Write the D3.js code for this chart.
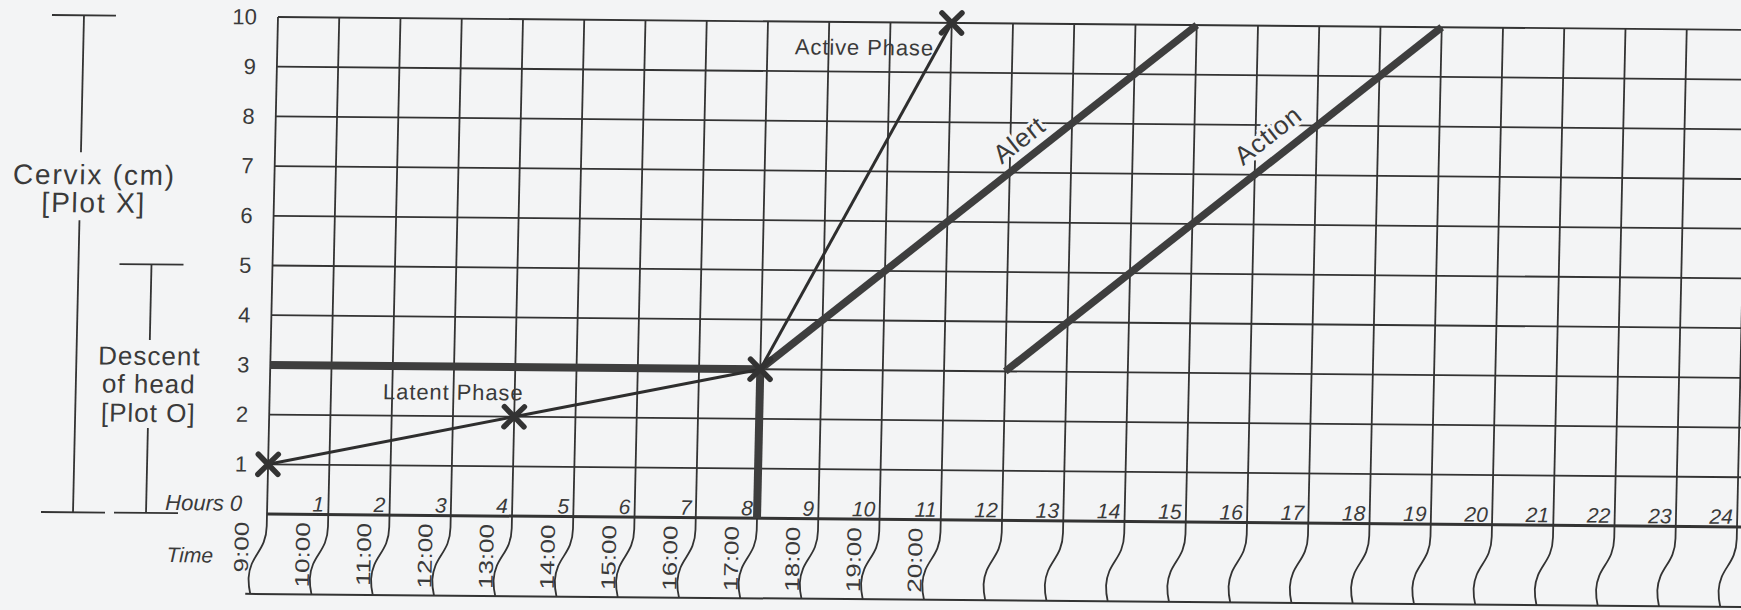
<!DOCTYPE html>
<html>
<head>
<meta charset="utf-8">
<script src="https://cdn.jsdelivr.net/npm/d3@7"></script>
<style>
  html, body { margin: 0; padding: 0; background: #f3f4f5; }
  svg { display: block; }
  text { font-family: "Liberation Sans", Arial, sans-serif; fill: #3a3a3a; }
</style>
</head>
<body>
<svg id="partograph"></svg>
<script>
var cervixTicks = [1, 2, 3, 4, 5, 6, 7, 8, 9, 10]
var gridValues = [0, 1, 2, 3, 4, 5, 6, 7, 8, 9, 10]
var hourTicks = [1, 2, 3, 4, 5, 6, 7, 8, 9, 10, 11, 12, 13, 14, 15, 16, 17, 18, 19, 20, 21, 22, 23, 24]
var gridHours = [0, 1, 2, 3, 4, 5, 6, 7, 8, 9, 10, 11, 12, 13, 14, 15, 16, 17, 18, 19, 20, 21, 22, 23, 24]
var timeLabels = ["9:00", "10:00", "11:00", "12:00", "13:00", "14:00", "15:00", "16:00", "17:00", "18:00", "19:00", "20:00"]

var latentPhase = [{hour: 0, cm: 1}, {hour: 4, cm: 2}, {hour: 8, cm: 3}]
var activePhase = [{hour: 8, cm: 3}, {hour: 11, cm: 10}]
var alertLine = [{hour: 8, cm: 3}, {hour: 15, cm: 10}]
var actionLine = [{hour: 12, cm: 3}, {hour: 19, cm: 10}]
var startLevel = [{hour: 0, cm: 3}, {hour: 8, cm: 3}]
var startHour = [{hour: 8, cm: 3}, {hour: 8, cm: 0}]
var plotted = [{hour: 0, cm: 1}, {hour: 4, cm: 2}, {hour: 8, cm: 3}, {hour: 11, cm: 10}]

var dims = {
    width: 1741,
    height: 610,
    // origin of the grid (hour 0, 0 cm) and the slight skew of the photographed page
    origin: {x: 267, y: 514},
    plotW: 1470,
    plotH: 497,
    skewX: -0.0221,
    skewY: 0.0088,
    timeRow: 80
}
var ink = "#333"
var heavy = "#3e3e3e"

var svg = d3.select("#partograph")
    .attr("width", dims.width)
    .attr("height", dims.height)

var x = d3.scaleLinear().domain([0, 24]).range([0, dims.plotW])
var y = d3.scaleLinear().domain([0, 10]).range([0, -dims.plotH])

var g = svg.append("g")
    .attr("transform", `matrix(1, ${dims.skewY}, ${dims.skewX}, 1, ${dims.origin.x}, ${dims.origin.y})`)

// grid
g.append("g").selectAll("line")
    .data(gridValues)
    .enter()
    .append("line")
    .attr("x1", x(0))
    .attr("x2", x(24) + 20)
    .attr("y1", d => y(d))
    .attr("y2", d => y(d))
    .attr("stroke", ink)
    .attr("stroke-width", d => d === 0 ? 3 : 1.8)

g.append("g").selectAll("line")
    .data(gridHours)
    .enter()
    .append("line")
    .attr("x1", d => x(d))
    .attr("x2", d => x(d))
    .attr("y1", y(0))
    .attr("y2", y(10))
    .attr("stroke", ink)
    .attr("stroke-width", 1.8)

// wavy dividers of the time row
g.append("g").selectAll("path")
    .data(gridHours)
    .enter()
    .append("path")
    .attr("d", d => {
        var h = x(d), b = dims.timeRow
        return `M${h},0 L${h},12 C${h},38 ${h - 16},40 ${h - 17},64 Q${h - 17},72 ${h - 15},${b}`
    })
    .attr("fill", "none")
    .attr("stroke", ink)
    .attr("stroke-width", 1.8)

g.append("line")
    .attr("x1", x(0) - 20)
    .attr("x2", x(24) + 20)
    .attr("y1", dims.timeRow)
    .attr("y2", dims.timeRow)
    .attr("stroke", ink)
    .attr("stroke-width", 2)

// axes labels
var yAxis = g.append("g")
    .call(d3.axisLeft(y).tickValues(cervixTicks).tickSize(0).tickPadding(21))
yAxis.select(".domain").remove()
yAxis.selectAll("text").attr("font-size", 22)

var hourAxis = g.append("g")
    .call(d3.axisTop(x).tickValues(hourTicks).tickSize(0).tickPadding(3))
hourAxis.select(".domain").remove()
hourAxis.selectAll("text")
    .attr("font-size", 21)
    .attr("font-style", "italic")
    .attr("text-anchor", "end")
    .attr("dx", -5)

g.append("g").selectAll("text")
    .data(timeLabels)
    .enter()
    .append("text")
    .attr("transform", (d, i) => `translate(${x(i) - 18}, 8) rotate(-90) scale(1.3, 1)`)
    .attr("text-anchor", "end")
    .attr("font-size", 20)
    .text(d => d)

g.append("text")
    .attr("x", -25).attr("y", -3)
    .attr("text-anchor", "end")
    .attr("font-size", 22)
    .attr("font-style", "italic")
    .text("Hours 0")

g.append("text")
    .attr("x", -53).attr("y", 49)
    .attr("text-anchor", "end")
    .attr("font-size", 21)
    .attr("font-style", "italic")
    .text("Time")

// left brackets
function bracket(cx, top, gapTop, gapBottom) {
    var b = g.append("g").attr("stroke", ink).attr("stroke-width", 1.8)
    b.append("line").attr("x1", cx - 32).attr("x2", cx + 32).attr("y1", top).attr("y2", top)
    b.append("line").attr("x1", cx - 32).attr("x2", cx + 32).attr("y1", y(0)).attr("y2", y(0))
    b.append("line").attr("x1", cx).attr("x2", cx).attr("y1", top).attr("y2", gapTop)
    b.append("line").attr("x1", cx).attr("x2", cx).attr("y1", gapBottom).attr("y2", y(0))
}
bracket(-194, y(10), -360, -292)
bracket(-121, y(5), -173, -85)

function block(cx, baselines, lines, size, spacing) {
    g.append("g").selectAll("text")
        .data(lines)
        .enter()
        .append("text")
        .attr("x", cx)
        .attr("y", (d, i) => baselines[i])
        .attr("text-anchor", "middle")
        .attr("font-size", size)
        .attr("letter-spacing", spacing)
        .text(d => d)
}
block(-180, [-328, -300], ["Cervix (cm)", "[Plot X]"], 28, 1.8)
block(-121, [-148, -120, -91], ["Descent", "of head", "[Plot O]"], 26, 1)

// heavy guide lines
var line = d3.line().x(d => x(d.hour)).y(d => y(d.cm))

g.append("path").datum(startLevel).attr("d", line)
    .attr("stroke", heavy).attr("stroke-width", 8).attr("fill", "none")
g.append("path").datum(startHour).attr("d", line)
    .attr("stroke", heavy).attr("stroke-width", 8).attr("fill", "none")
g.append("path").datum(alertLine).attr("d", line)
    .attr("stroke", heavy).attr("stroke-width", 7.5).attr("fill", "none")
g.append("path").datum(actionLine).attr("d", line)
    .attr("stroke", heavy).attr("stroke-width", 7.5).attr("fill", "none")

// plotted dilatation
g.append("path").datum(latentPhase).attr("d", line)
    .attr("stroke", "#2e2e2e").attr("stroke-width", 3).attr("fill", "none")
g.append("path").datum(activePhase).attr("d", line)
    .attr("stroke", "#2e2e2e").attr("stroke-width", 3).attr("fill", "none")

g.append("g").selectAll("path")
    .data(plotted)
    .enter()
    .append("path")
    .attr("d", d => {
        var px = x(d.hour), py = y(d.cm), s = 10
        return `M${px - s},${py - s}L${px + s},${py + s}M${px - s},${py + s}L${px + s},${py - s}`
    })
    .attr("stroke", "#333")
    .attr("stroke-width", 5.5)
    .attr("stroke-linecap", "round")

// phase labels
g.append("text")
    .attr("x", x(1.85)).attr("y", y(2.33))
    .attr("font-size", 22)
    .attr("letter-spacing", 0.9)
    .text("Latent Phase")

g.append("text")
    .attr("x", x(10.72)).attr("y", y(9.34))
    .attr("text-anchor", "end")
    .attr("font-size", 22)
    .attr("letter-spacing", 0.9)
    .text("Active Phase")

var slope = Math.atan2(y(10) - y(3), x(15) - x(8)) * 180 / Math.PI

function slanted(hour, cm, label) {
    g.append("text")
        .attr("transform", `translate(${x(hour)}, ${y(cm)}) rotate(${slope})`)
        .attr("text-anchor", "middle")
        .attr("dy", "0.35em")
        .attr("font-size", 26)
        .attr("letter-spacing", 0.8)
        .attr("stroke", "#f3f4f5")
        .attr("stroke-width", 6)
        .attr("paint-order", "stroke")
        .text(label)
}
slanted(12.14, 7.66, "Alert")
slanted(16.2, 7.8, "Action")
</script>
</body>
</html>
